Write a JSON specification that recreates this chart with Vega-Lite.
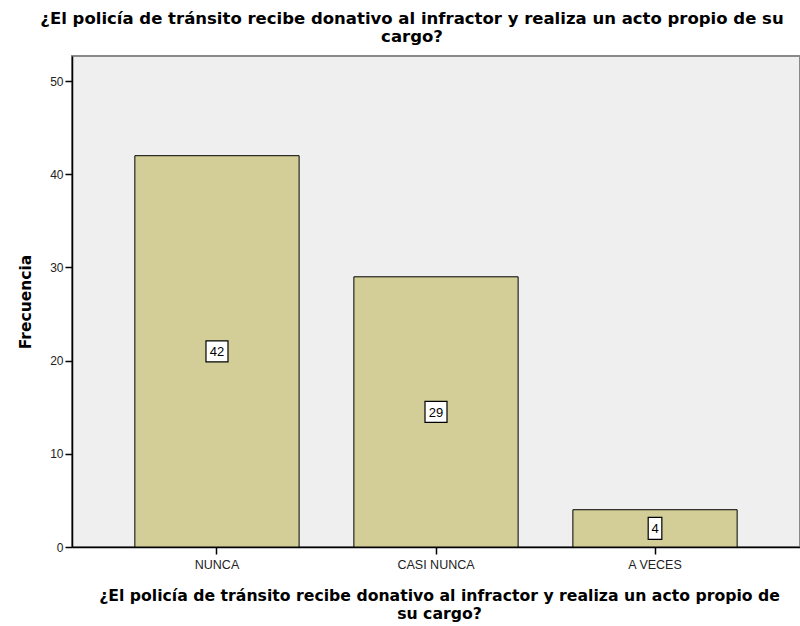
{
  "$schema": "https://vega.github.io/schema/vega-lite/v6.json",
  "width": 728,
  "height": 491,
  "autosize": "none",
  "padding": {"left": 72, "top": 56, "right": 0, "bottom": 79},
  "background": "white",
  "config": {
    "font": "Liberation Sans",
    "view": {"fill": "#EFEFEF", "stroke": "#8a8a8a", "strokeWidth": 2}
  },
  "title": {
    "text": ["¿El policía de tránsito recibe donativo al infractor y realiza un acto propio de su", "cargo?"],
    "font": "DejaVu Sans",
    "fontSize": 16.5,
    "fontWeight": "bold",
    "color": "#000000",
    "anchor": "middle",
    "dx": -24,
    "offset": 11,
    "lineHeight": 18
  },
  "data": {
    "values": [
      {"respuesta": "NUNCA", "frecuencia": 42},
      {"respuesta": "CASI NUNCA", "frecuencia": 29},
      {"respuesta": "A VECES", "frecuencia": 4}
    ]
  },
  "encoding": {
    "x": {
      "field": "respuesta",
      "type": "nominal",
      "sort": ["NUNCA", "CASI NUNCA", "A VECES"],
      "scale": {"paddingInner": 0.25, "paddingOuter": 0.287},
      "axis": {
        "title": ["¿El policía de tránsito recibe donativo al infractor y realiza un acto propio de", "su cargo?"],
        "titleFont": "DejaVu Sans",
        "titleFontSize": 15.7,
        "titleFontWeight": "bold",
        "titleColor": "#000000",
        "titleLineHeight": 18,
        "titlePadding": 18,
        "titleX": 367,
        "labelAngle": 0,
        "labelFont": "Liberation Sans",
        "labelFontSize": 12.5,
        "labelColor": "#222222",
        "labelPadding": 4,
        "tickSize": 7,
        "tickColor": "#000000",
        "tickWidth": 1.5,
        "domainColor": "#000000",
        "domainWidth": 1.5
      }
    }
  },
  "layer": [
    {
      "mark": {"type": "bar", "color": "#D3CE98", "stroke": "#000000", "strokeWidth": 1},
      "encoding": {
        "y": {
          "field": "frecuencia",
          "type": "quantitative",
          "scale": {"domain": [0, 52.7], "nice": false},
          "axis": {
            "title": "Frecuencia",
            "titleFont": "DejaVu Sans",
            "titleFontSize": 15.5,
            "titleFontWeight": "bold",
            "titleColor": "#000000",
            "titlePadding": 16,
            "values": [0, 10, 20, 30, 40, 50],
            "grid": false,
            "labelFont": "Liberation Sans",
            "labelFontSize": 12,
            "labelColor": "#222222",
            "labelPadding": 2,
            "tickSize": 7,
            "tickColor": "#000000",
            "tickWidth": 1.5,
            "domainColor": "#000000",
            "domainWidth": 1.5
          }
        }
      }
    },
    {
      "mark": {"type": "point", "filled": true, "fill": "white", "stroke": "#000000", "strokeWidth": 1.2, "opacity": 1, "size": 484},
      "encoding": {
        "y": {"field": "frecuencia", "type": "quantitative", "scale": {"domain": [0, 105.4], "nice": false}, "axis": null},
        "shape": {
          "condition": {"test": "datum.frecuencia < 10", "value": "M-0.62,-1L0.62,-1L0.62,1L-0.62,1Z"},
          "value": "M-1,-0.95L1,-0.95L1,0.95L-1,0.95Z"
        }
      }
    },
    {
      "mark": {"type": "text", "font": "Liberation Sans", "fontSize": 13, "color": "#000000", "baseline": "middle", "align": "center", "dy": 1},
      "encoding": {
        "y": {"field": "frecuencia", "type": "quantitative", "scale": {"domain": [0, 105.4], "nice": false}, "axis": null},
        "text": {"field": "frecuencia", "type": "quantitative"}
      }
    }
  ],
  "resolve": {"scale": {"y": "independent"}}
}
